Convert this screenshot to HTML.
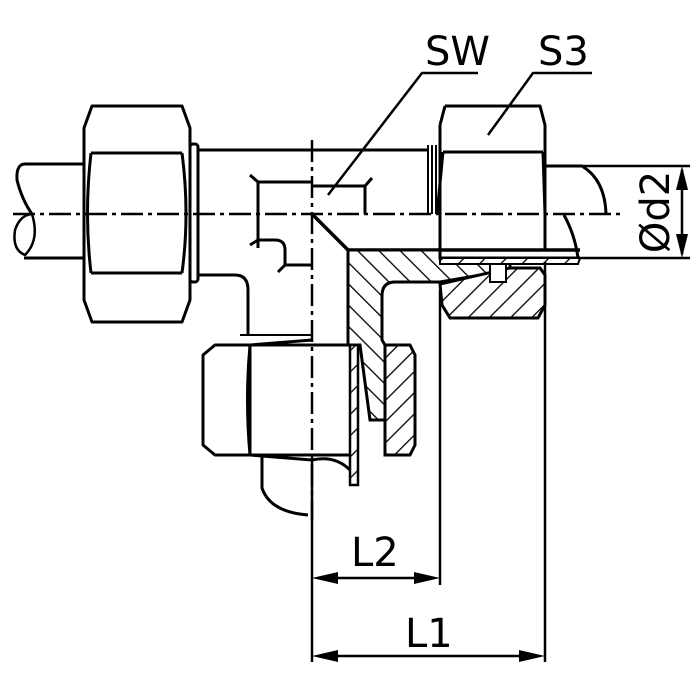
<!DOCTYPE html>
<html><head><meta charset="utf-8"><style>
html,body{margin:0;padding:0;background:#fff;}
svg{display:block}
text{font-family:"DejaVu Sans","Liberation Sans",sans-serif;fill:#000}
</style></head><body>
<svg width="700" height="700" viewBox="0 0 700 700" xmlns="http://www.w3.org/2000/svg">
<defs>
<pattern id="h" patternUnits="userSpaceOnUse" width="15" height="15" patternTransform="rotate(45)">
<rect width="15" height="15" fill="#fff"/><line x1="0" y1="0" x2="0" y2="15" stroke="#000" stroke-width="2.6"/>
</pattern>
<pattern id="h2" patternUnits="userSpaceOnUse" width="15" height="15" patternTransform="rotate(-45)">
<rect width="15" height="15" fill="#fff"/><line x1="0" y1="0" x2="0" y2="15" stroke="#000" stroke-width="2.6"/>
</pattern>
</defs>
<g fill="none" stroke="#000" stroke-width="3" stroke-linejoin="round">
<path d="M83,164 H25 Q16,164 17,180 Q22,200 32,214"/>
<path d="M83,258 H24"/>
<path d="M32,214 Q40,240 25,255 Q12,250 15,230 Q20,215 32,214Z" stroke-width="2.5"/>
<path d="M92,106 H182 L190,128 V300 L182,322 H92 L84,300 V128 Z"/>
<path d="M91,153 H182 M91,273 H182"/>
<path d="M91,153 Q84,214 91,273 M182,153 Q190,214 182,273"/>
<rect x="190" y="144" width="8" height="138" rx="3"/>
<path d="M198,150 H428"/>
<path d="M198,275 H235 Q248,275 248,290 V335"/>
<path d="M258,182 H312 M258,182 V248 M250,175 L258,182 M250,245 L258,240 M258,240 H275 Q285,240 285,250 V265 H312 M285,265 L278,272"/>
<path d="M312,186 H365 V214 M365,186 L372,178"/>
<path d="M445,106 H540 L545,125 V250 M440,125 L445,106 M440,125 V250"/>
<path d="M443,152 H543"/>
<path d="M443,152 L437,214 M543,152 L545,214"/>
<path d="M428,145 V214 M432,145 V214 M436,145 V214" stroke-width="2"/>
<path d="M545,166 H582 Q605,180 606,214"/>
<path d="M564,215 Q575,235 578,258"/>
<path d="M312,214 L348,250 H580" stroke-width="3.5"/>
<path d="M440,214 V258 H580"/>
</g>
<path d="M348,250 H440 V258 H510 V270 L440,282 H395 Q382,282 382,296 V340 L388,350 V420 H370 L360,345 H348 Z" fill="url(#h2)" stroke="#000" stroke-width="3"/>
<path d="M440,258 H580 L578,264 H440 Z" fill="url(#h)" stroke="#000" stroke-width="2"/>
<path d="M440,284 L510,268 H540 L545,275 V305 L538,318 H450 L442,305 Z" fill="url(#h)" stroke="#000" stroke-width="3"/>
<path d="M385,345 H410 L415,355 V445 L410,455 H385 Z" fill="url(#h)" stroke="#000" stroke-width="3"/>
<path d="M350,345 H358 V485 H350 Z" fill="url(#h)" stroke="#000" stroke-width="2.5"/>
<rect x="490" y="264" width="16" height="18" fill="#fff" stroke="#000" stroke-width="2"/>
<g fill="none" stroke="#000" stroke-width="3" stroke-linejoin="round">
<path d="M250,345 H350 M250,455 H350"/>
<path d="M215,345 H250 L250,455 H215 L203,445 V355 Z"/>
<path d="M250,345 Q245,400 250,455 M250,345 L312,340 M250,455 L312,460"/>
<path d="M240,335 H312" stroke-width="2"/>
<path d="M262,455 V488 Q270,512 308,515"/>
<path d="M312,460 Q335,455 350,470"/>
<path d="M312,460 V662 M440,290 V585 M545,262 V662" stroke-width="2.5"/>
<path d="M545,166 H690 M580,258 H690" stroke-width="2.5"/>
<path d="M682,170 V254 M318,578 H434 M318,656 H540" stroke-width="2.5"/>
<path d="M478,73 H422 L328,195 M592,73 H533 L488,135" stroke-width="2.5"/>
</g>
<g stroke="#000" stroke-width="2.5" stroke-dasharray="22,5,4,5">
<path d="M13,214 H620"/>
<path d="M312,140 V520"/>
</g>
<g fill="#000">
<path d="M682,166 L676,190 H688 Z M682,258 L676,234 H688 Z"/>
<path d="M312,578 L338,572 V584 Z M440,578 L414,572 V584 Z"/>
<path d="M312,656 L338,650 V662 Z M545,656 L519,650 V662 Z"/>
</g>
<text x="425" y="65" font-size="40">SW</text>
<text x="538" y="65" font-size="40">S3</text>
<text x="351" y="566" font-size="40">L2</text>
<text x="405" y="647" font-size="40">L1</text>
<text transform="translate(669,212) rotate(-90)" text-anchor="middle" font-size="40">Ød2</text>
</svg>
</body></html>
